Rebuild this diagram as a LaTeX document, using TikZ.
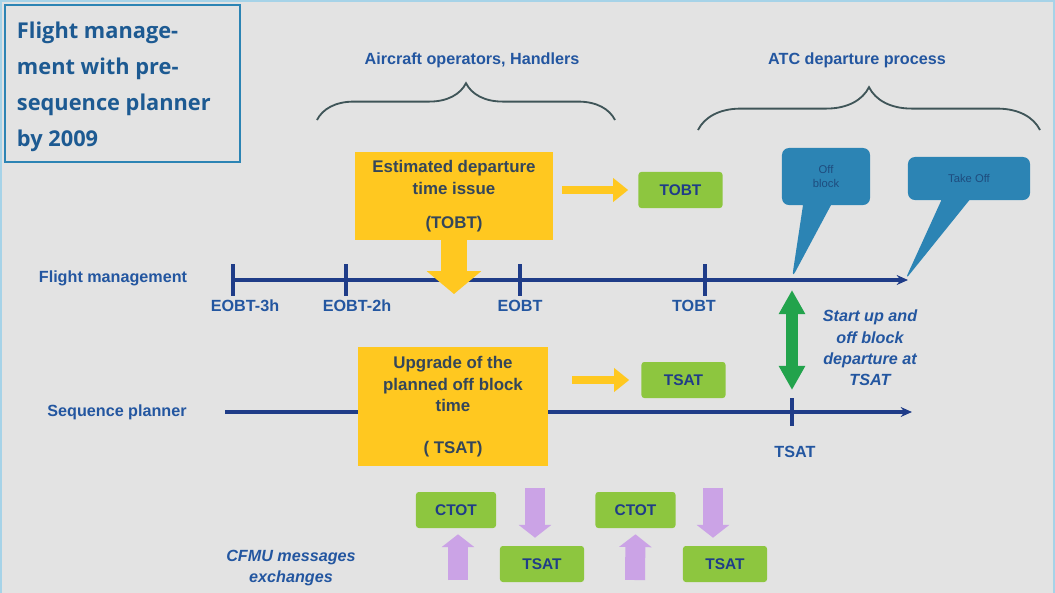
\documentclass[tikz,border=0pt]{standalone}
\usepackage{fontspec}
\setmainfont{Liberation Sans}
\newfontfamily\titlefont{Open Sans}
\usepackage{xcolor}
\usetikzlibrary{arrows.meta,positioning,calc,shapes.callouts,decorations.pathreplacing}
\definecolor{PanelGray}{HTML}{E3E3E3}
\definecolor{FrameBlue}{HTML}{A6D3E8}
\definecolor{LabelBlue}{HTML}{2356A0}
\definecolor{TitleBlue}{HTML}{1D5A92}
\definecolor{LineBlue}{HTML}{1F3C88}
\definecolor{BoxYellow}{HTML}{FFC820}
\definecolor{BoxGreen}{HTML}{8DC63F}
\definecolor{CallBlue}{HTML}{2C84B4}
\definecolor{CallInk}{HTML}{1E4C7E}
\definecolor{StartGreen}{HTML}{22A34C}
\definecolor{MsgPurple}{HTML}{CBA3E6}
\definecolor{InkGray}{HTML}{34465A}
\definecolor{BraceGray}{HTML}{3F5558}

\tikzset{
  lbl/.style={font=\bfseries\fontsize{11.5}{15}\selectfont,text=LabelBlue,align=center},
  itlbl/.style={font=\bfseries\itshape\fontsize{11.5}{15.2}\selectfont,text=LabelBlue,align=center},
  tline/.style={LineBlue,line width=2.2pt},
  yellowbox/.style={fill=BoxYellow,text=InkGray,align=center,inner sep=0pt,
    font=\bfseries\fontsize{12}{15.6}\selectfont},
  greenbox/.style={fill=BoxGreen,text=LineBlue,rounded corners=2pt,
    minimum width=2.1cm,minimum height=0.9cm,font=\bfseries\fontsize{11}{13}\selectfont},
  callbox/.style={rectangle callout,fill=CallBlue,text=CallInk,rounded corners=5pt,
    align=center,font=\fontsize{8}{9.5}\selectfont,callout pointer width=0.7cm},
  yarrow/.style={BoxYellow,line width=0.22cm,
    -{Triangle[width=0.58cm,length=0.38cm]}},
  parrow/.style={MsgPurple,line width=0.5cm,
    -{Triangle[width=0.8cm,length=0.32cm]}},
  bracket/.style={BraceGray,line width=1.3pt,decorate,
    decoration={brace,amplitude=#1,aspect=0.5}},
}

\begin{document}
\begin{tikzpicture}[x=0.025cm,y=-0.025cm]
\useasboundingbox (0,0) rectangle (1055,593);
\fill[PanelGray] (0,0) rectangle (1055,593);
\draw[FrameBlue,line width=3pt] (0,593) -- (0,0) -- (1055,0) -- (1055,593);

% title
\node[draw=CallBlue,line width=1.2pt,minimum width=5.875cm,minimum height=3.925cm] (title) at (122.5,83.5) {};
\node[anchor=west,align=left,text=TitleBlue,font=\titlefont\bfseries\fontsize{15.5}{25.5}\selectfont]
  (titletxt) at (12,87) {Flight manage-\\ment with pre-\\sequence planner\\by 2009};

% braces over the two phases
\node[lbl] (aoh) at (472,60) {Aircraft operators, Handlers};
\node[lbl] (atc) at (857,60) {ATC departure process};
\coordinate (aohL) at (317,120);
\coordinate (aohR) at (615,120);
\coordinate (atcL) at (698,130);
\coordinate (atcR) at (1040,130);
\draw[bracket=0.92cm] (aohL) -- (aohR);
\draw[bracket=1.07cm] (atcL) -- (atcR);

% flight management line
\node[lbl] (fmlbl) at (113,278) {Flight management};
\coordinate (fm3h) at (233,280);
\coordinate (fm2h) at (346,280);
\coordinate (fmeobt) at (520,280);
\coordinate (fmtobt) at (705,280);
\coordinate (fmend) at (908,280);
\draw[tline,-{Stealth[length=8pt,width=7pt]}] (fm3h) -- (fmend);
\foreach \c in {fm3h,fm2h,fmeobt,fmtobt}
  \draw[tline] ($(\c)+(0,-16)$) -- ($(\c)+(0,16)$);
\node[lbl] (l3h) at (245,306) {EOBT-3h};
\node[lbl] (l2h) at (357,306) {EOBT-2h};
\node[lbl] (leobt) at (520,306) {EOBT};
\node[lbl] (ltobt) at (694,306) {TOBT};

% sequence planner line
\node[lbl] (splbl) at (117,412) {Sequence planner};
\coordinate (sp0) at (225,412);
\coordinate (sptsat) at (792,412);
\coordinate (spend) at (912,412);
\draw[tline,-{Stealth[length=8pt,width=7pt]}] (sp0) -- (spend);
\draw[tline] ($(sptsat)+(0,-14)$) -- ($(sptsat)+(0,14)$);
\node[lbl] (ltsat) at (795,452) {TSAT};

% TOBT issue
\node[yellowbox,minimum width=4.95cm,minimum height=2.2cm] (est) at (454,196)
  {Estimated departure\\time issue\\[9pt](TOBT)};
\coordinate (estdown) at (454,294);
\draw[BoxYellow,line width=0.625cm,-{Triangle[width=1.33cm,length=0.57cm]}] (est.south) -- (estdown);
\node[greenbox] (tobt) at (680.5,190) {TOBT};
\draw[yarrow,shorten <=0.22cm,shorten >=0.25cm] (est.east |- tobt.west) -- (tobt.west);

% TSAT upgrade
\node[yellowbox,minimum width=4.75cm,minimum height=2.975cm] (upg) at (453,406.5)
  {Upgrade of the\\planned off block\\time\\[14pt]( TSAT)};
\node[greenbox] (tsat) at (683.5,380) {TSAT};
\draw[yarrow,shorten <=0.6cm,shorten >=0.3cm] (upg.east |- tsat.west) -- (tsat.west);

% ATC callouts
\coordinate (offtip) at (792,278);
\coordinate (toftip) at (905,280);
\node[callbox,callout absolute pointer={(offtip)},minimum width=2.2cm,minimum height=1.425cm]
  (offblk) at (826,176.5) {Off\\block};
\node[callbox,callout absolute pointer={(toftip)},minimum width=3.05cm,minimum height=1.075cm]
  (takeoff) at (969,178.5) {Take Off};

% start up
\coordinate (suTop) at (792,290);
\coordinate (suBot) at (792,390);
\draw[StartGreen,line width=0.3cm,
  {Triangle[width=0.62cm,length=0.6cm]}-{Triangle[width=0.62cm,length=0.6cm]}] (suTop) -- (suBot);
\node[itlbl] (sutxt) at (870,348) {Start up and\\off block\\departure at\\TSAT};

% CFMU exchanges
\node[itlbl] (cfmu) at (291,568) {CFMU messages\\exchanges};
\node[greenbox,minimum width=2cm] (ctot1) at (456,510) {CTOT};
\node[greenbox] (tsat1) at (542,564) {TSAT};
\node[greenbox,minimum width=2cm] (ctot2) at (635.5,510) {CTOT};
\node[greenbox] (tsat2) at (725,564) {TSAT};
\coordinate (up1) at (458,580);
\coordinate (up2) at (635,580);
\draw[parrow] (up1) -- ($(ctot1.south)+(2,6)$);
\draw[parrow] (up2) -- ($(ctot2.south)+(0,6)$);
\draw[parrow] ($(tsat1.north |- ctot1.north)+(-7,-4)$) -- ($(tsat1.north)+(-7,-8)$);
\draw[parrow] ($(tsat2.north |- ctot2.north)+(-12,-4)$) -- ($(tsat2.north)+(-12,-8)$);
\end{tikzpicture}
\end{document}
